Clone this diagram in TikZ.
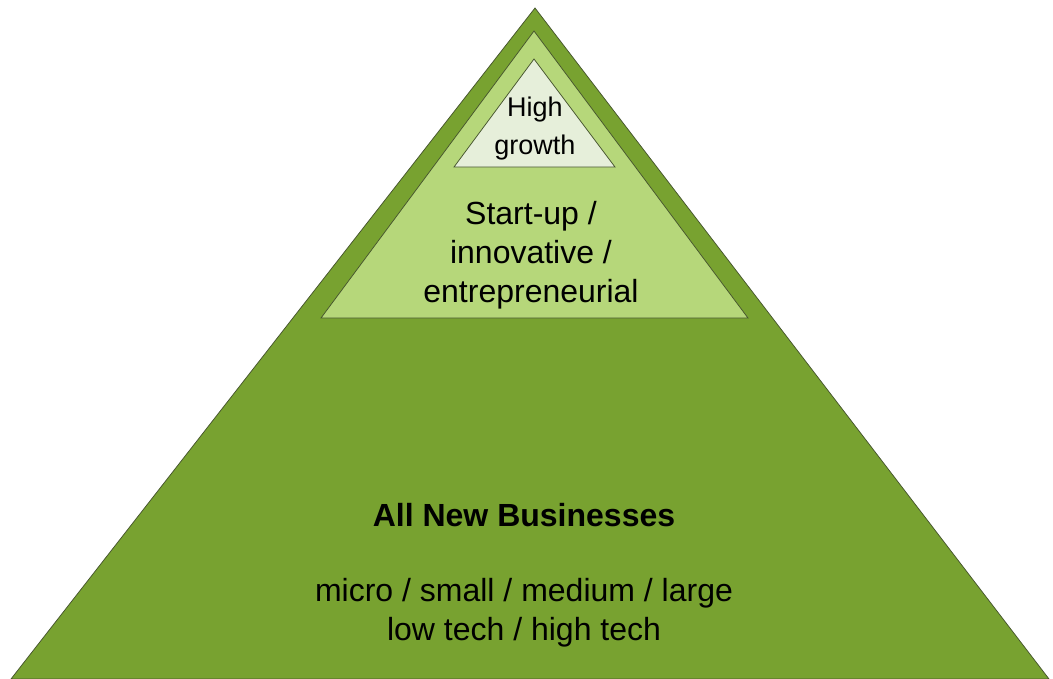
\documentclass[tikz,border=0pt]{standalone}
\usepackage{fontspec}
\setmainfont{Liberation Sans}
\begin{document}
\begin{tikzpicture}[x=1pt,y=1pt,yscale=-1,xscale=1]
        \useasboundingbox (0,0) rectangle (1053,678);
        
        %Shape: Triangle [id:outer] 
        \draw  [color={rgb, 255:red, 70; green, 85; blue, 45 }  ,draw opacity=1 ][fill={rgb, 255:red, 120; green, 162; blue, 48 }  ,fill opacity=1 ][line width=0.75]  (535,8) -- (1049,679) -- (11,679) -- cycle ;
        %Shape: Triangle [id:middle] 
        \draw  [color={rgb, 255:red, 70; green, 85; blue, 45 }  ,draw opacity=1 ][fill={rgb, 255:red, 182; green, 215; blue, 122 }  ,fill opacity=1 ][line width=0.75]  (534,31) -- (748,318) -- (321,318) -- cycle ;
        %Shape: Triangle [id:inner] 
        \draw  [color={rgb, 255:red, 70; green, 85; blue, 45 }  ,draw opacity=1 ][fill={rgb, 255:red, 230; green, 239; blue, 218 }  ,fill opacity=1 ][line width=0.75]  (534,59) -- (615,167) -- (454,167) -- cycle ;
        
        % Text Node
        \draw (535,129) node [inner sep=0.75pt, align=center, font=\fontsize{27}{38}\selectfont]  (high)  {High\\growth};
        % Text Node
        \draw (531,255) node [inner sep=0.75pt, align=center, font=\fontsize{32}{39}\selectfont]  (startup)  {Start-up /\\innovative /\\entrepreneurial};
        % Text Node
        \draw (524,515) node [inner sep=0.75pt, font=\fontsize{32}{39}\bfseries]  (all)  {All New Businesses};
        % Text Node
        \draw (524,613) node [inner sep=0.75pt, align=center, font=\fontsize{32}{39}\selectfont]  (sizes)  {micro / small / medium / large\\low tech / high tech};
        
        
        \end{tikzpicture}
\end{document}
